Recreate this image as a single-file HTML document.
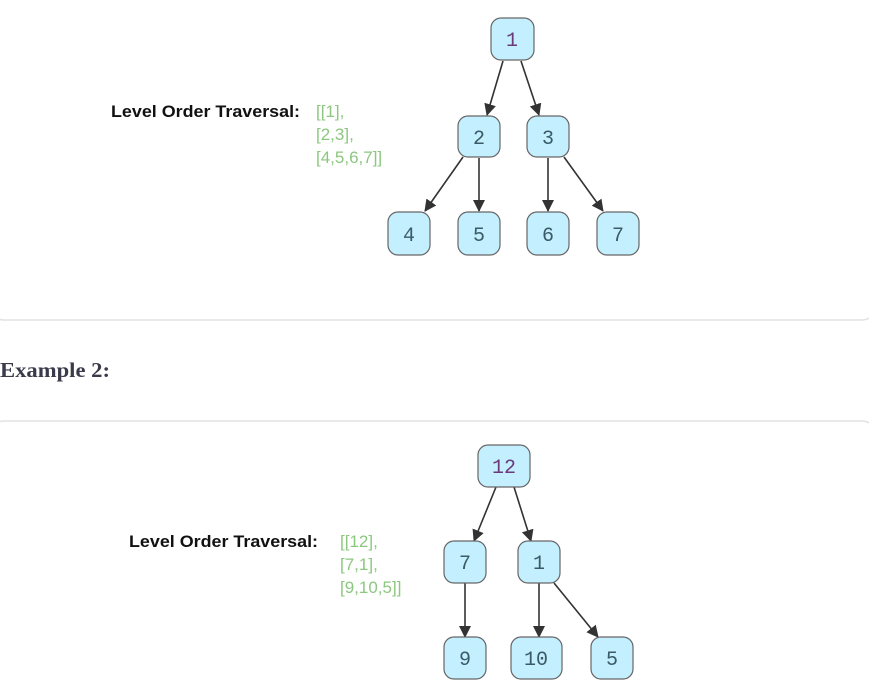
<!DOCTYPE html>
<html><head><style>
body{margin:0;background:#fff;width:869px;height:692px;overflow:hidden}
</style></head><body>
<svg width="869" height="692" xmlns="http://www.w3.org/2000/svg">
<defs>
<marker id="a" markerWidth="12" markerHeight="12" refX="11" refY="6" orient="auto" markerUnits="userSpaceOnUse">
<path d="M0,0 L12,6 L0,12 z" fill="#333"/>
</marker>
</defs>
<rect x="-10" y="-20" width="886" height="340" rx="14" fill="#fff" stroke="#e2e2e2" stroke-width="1.5"/>
<rect x="-10" y="421" width="886" height="300" rx="14" fill="#fff" stroke="#e2e2e2" stroke-width="1.5"/>
<text x="0" y="377" font-family="Liberation Serif, serif" font-weight="bold" font-size="21" fill="#3a3a4a" textLength="110" lengthAdjust="spacingAndGlyphs">Example 2:</text>
<g font-family="Liberation Sans, sans-serif">
<text x="111" y="117" font-weight="bold" font-size="17" fill="#111" textLength="189" lengthAdjust="spacingAndGlyphs">Level Order Traversal:</text>
<text font-size="17" fill="#8cc77f"><tspan x="316" y="117">[[1],</tspan><tspan x="316" y="140">[2,3],</tspan><tspan x="316" y="163">[4,5,6,7]]</tspan></text>
<text x="129" y="547" font-weight="bold" font-size="17" fill="#111" textLength="189" lengthAdjust="spacingAndGlyphs">Level Order Traversal:</text>
<text font-size="17" fill="#8cc77f"><tspan x="340" y="547">[[12],</tspan><tspan x="340" y="570">[7,1],</tspan><tspan x="340" y="593">[9,10,5]]</tspan></text>
</g>
<g stroke="#333" stroke-width="1.6" marker-end="url(#a)">
<line x1="503" y1="61" x2="487" y2="115"/>
<line x1="521" y1="61" x2="539" y2="115"/>
<line x1="463" y1="157" x2="425" y2="211"/>
<line x1="479" y1="158" x2="479" y2="211"/>
<line x1="548" y1="158" x2="548" y2="211"/>
<line x1="564" y1="157" x2="603" y2="211"/>
<line x1="496" y1="487" x2="474" y2="541"/>
<line x1="514" y1="487" x2="531" y2="541"/>
<line x1="465" y1="583" x2="465" y2="637"/>
<line x1="539" y1="583" x2="539" y2="637"/>
<line x1="554" y1="583" x2="598" y2="637"/>
</g>
<g fill="#c4efff" stroke="#666" stroke-width="1.2">
<rect x="491" y="18" width="43" height="42" rx="10"/>
<rect x="458" y="116" width="42" height="41" rx="10"/>
<rect x="527" y="116" width="42" height="41" rx="10"/>
<rect x="388" y="212" width="42" height="43" rx="10"/>
<rect x="458" y="212" width="42" height="43" rx="10"/>
<rect x="527" y="212" width="42" height="43" rx="10"/>
<rect x="597" y="212" width="42" height="43" rx="10"/>
<rect x="478" y="445" width="52" height="42" rx="10"/>
<rect x="444" y="541" width="42" height="42" rx="10"/>
<rect x="518" y="541" width="42" height="42" rx="10"/>
<rect x="444" y="637" width="42" height="42" rx="10"/>
<rect x="511" y="637" width="51" height="42" rx="10"/>
<rect x="591" y="637" width="42" height="42" rx="10"/>
</g>
<g font-family="Liberation Mono, monospace" font-size="20" fill="#3a5a66" text-anchor="middle">
<text x="512" y="46" fill="#6a3a7a">1</text>
<text x="479" y="144">2</text>
<text x="548" y="144">3</text>
<text x="409" y="241">4</text>
<text x="479" y="241">5</text>
<text x="548" y="241">6</text>
<text x="618" y="241">7</text>
<text x="504" y="473" fill="#6a3a7a">12</text>
<text x="465" y="569">7</text>
<text x="539" y="569">1</text>
<text x="465" y="665">9</text>
<text x="536" y="665">10</text>
<text x="612" y="665">5</text>
</g>
</svg>
</body></html>
